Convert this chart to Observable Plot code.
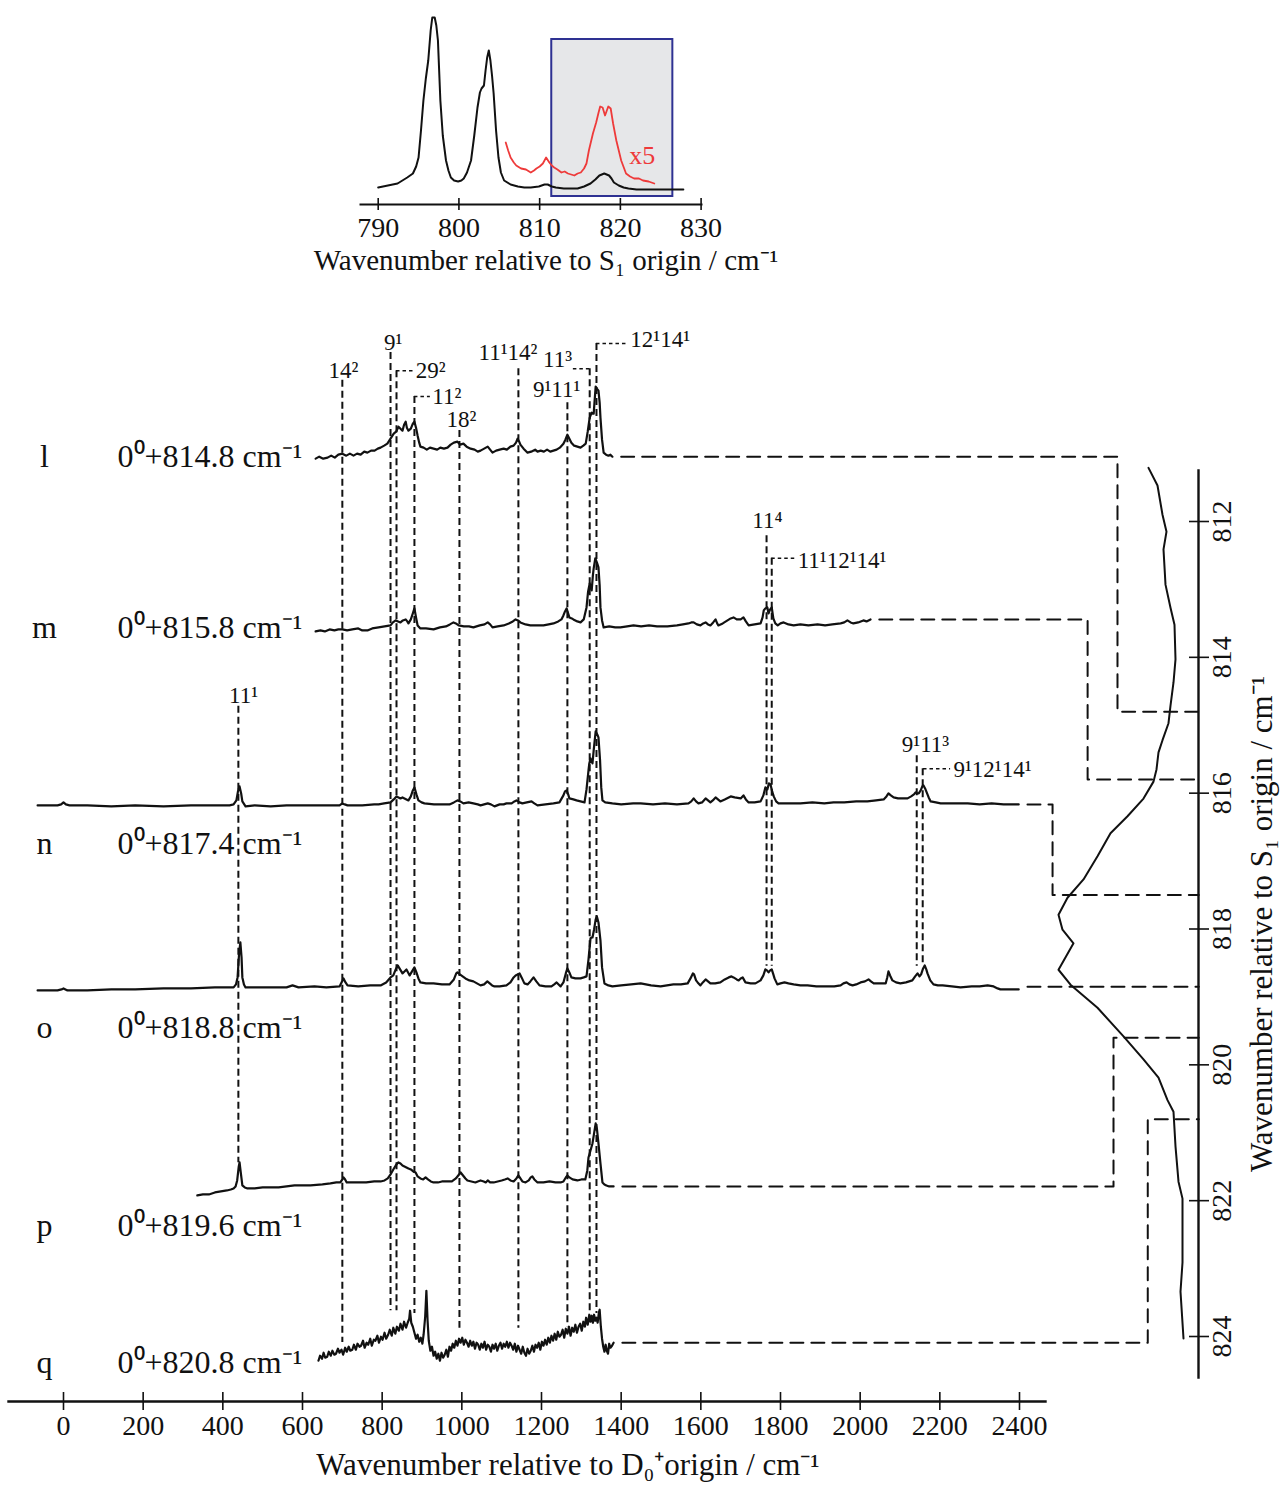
<!DOCTYPE html>
<html><head><meta charset="utf-8">
<script src="https://cdn.jsdelivr.net/npm/d3@7"></script>
<script src="https://cdn.jsdelivr.net/npm/@observablehq/plot@0.6"></script>
<style>
html,body{margin:0;padding:0;background:#fff;}
#fig{position:relative;width:1284px;height:1486px;background:#fff;overflow:hidden;}
#fig svg{position:absolute;left:0;top:0;}
</style></head><body><div id="fig"></div>
<script>
// ---------------- DATA ----------------
// Inset: REMPI spectrum vs wavenumber relative to S1 origin (cm-1), intensity a.u.
const insetTicks = [790, 800, 810, 820, 830];
const insetBlack = [[790.0,3],[791.2,5],[792.4,7],[793.0,10],[793.6,13],[794.3,17],[794.7,24],[795.0,33],[795.3,60],[795.6,90],[795.9,112],[796.2,130],[796.5,160],[796.7,173],[797.0,173],[797.2,165],[797.4,150],[797.7,90],[798.0,55],[798.4,30],[798.7,20],[799.0,13],[799.4,10],[799.9,9],[800.3,10],[800.6,12],[801.0,18],[801.5,30],[801.9,55],[802.3,83],[802.6,98],[802.8,102],[803.1,105],[803.3,120],[803.5,133],[803.7,140],[803.9,130],[804.1,115],[804.3,97],[804.6,60],[804.9,33],[805.2,18],[805.6,10],[806.4,6],[807.3,4],[808.1,3],[808.9,3],[809.9,4],[810.6,6],[811.0,6],[811.5,4],[812.0,3],[813.0,2],[814.0,2],[814.7,2],[815.5,4],[816.3,7],[816.9,11],[817.4,15],[818.0,17],[818.3,16],[818.6,15],[818.9,12],[819.2,8],[819.8,5],[820.4,3],[821.0,2],[822.0,1],[823.8,1],[825.5,1],[827.8,1]];
const insetRedX5 = [[805.8,48],[806.1,40],[806.4,33],[806.8,28],[807.1,25],[807.7,22],[808.3,21],[808.9,18],[809.3,20],[809.6,22],[810.0,24],[810.4,27],[810.8,33],[811.2,28],[811.5,25],[811.8,23],[812.2,21],[812.7,18],[813.1,19],[813.5,17],[813.9,16],[814.3,15],[814.7,17],[815.1,18],[815.5,22],[815.8,27],[816.1,40],[816.6,57],[817.0,68],[817.3,78],[817.5,84],[817.8,83],[818.1,75],[818.5,84],[818.8,82],[819.1,67],[819.5,50],[820.1,30],[820.7,17],[821.2,14],[821.7,12],[822.3,12],[822.8,10],[823.5,9],[824.2,7]];
const insetBox = [{x1: 811.5, x2: 826.5, y1: -6, y2: 151}];
const insetNote = [{text: "x5", wn: 821.1, I: 35}];
const insetTitle = "Wavenumber relative to S₁ origin / cm⁻¹";

// Main panel: ion spectra vs wavenumber relative to D0+ origin
const xTicks = [0, 200, 400, 600, 800, 1000, 1200, 1400, 1600, 1800, 2000, 2200, 2400];
const mainTitle = "Wavenumber relative to D₀⁺origin / cm⁻¹";
const traceNames = ["l", "m", "n", "o", "p", "q"];
const valueLabels = ["0⁰+814.8 cm⁻¹", "0⁰+815.8 cm⁻¹", "0⁰+817.4 cm⁻¹", "0⁰+818.8 cm⁻¹", "0⁰+819.6 cm⁻¹", "0⁰+820.8 cm⁻¹"];
// S1 wavenumber each spectrum is connected to on the right-hand axis
const connectS1 = [814.8, 815.8, 817.5, 818.85, 819.6, 820.8];

const traceL = [[633,-1],[642,1],[652,-1],[663,0],[672,2],[681,0],[690,3],[700,4],[710,2],[719,4],[728,2],[737,4],[746,3],[755,6],[763,5],[772,7],[781,7],[789,9],[796,10],[805,12],[813,14],[821,19],[829,24],[835,26],[841,31],[846,29],[851,27],[855,33],[859,36],[862,30],[866,27],[872,29],[877,34],[881,36],[885,30],[889,22],[893,15],[896,11],[904,10],[912,8],[920,10],[929,9],[938,8],[946,10],[955,9],[964,10],[972,13],[980,15],[989,16],[996,13],[1004,14],[1012,11],[1022,9],[1032,8],[1040,6],[1047,7],[1056,9],[1065,11],[1071,8],[1077,5],[1086,7],[1095,8],[1105,9],[1113,8],[1122,11],[1130,12],[1136,15],[1140,19],[1144,16],[1147,13],[1155,9],[1165,5],[1174,6],[1184,8],[1190,6],[1198,7],[1206,6],[1214,8],[1222,6],[1230,7],[1238,8],[1246,10],[1255,14],[1260,18],[1265,23],[1270,19],[1275,15],[1282,12],[1290,11],[1298,10],[1305,12],[1311,14],[1316,26],[1321,40],[1326,45],[1331,44],[1333,55],[1336,71],[1339,69],[1343,67],[1346,55],[1348,40],[1352,18],[1356,5],[1362,3],[1368,2],[1373,3],[1378,1]];
const traceM = [[633,-6],[645,-5],[656,-6],[668,-4],[680,-5],[690,-4],[700,-4],[712,-5],[725,-4],[740,-3],[750,-5],[763,-5],[775,-3],[791,-2],[806,-1],[821,0],[827,3],[834,5],[840,4],[846,3],[852,5],[859,6],[863,4],[866,2],[872,6],[877,12],[881,17],[885,8],[889,0],[896,-3],[910,-3],[929,-4],[945,-2],[960,-1],[970,1],[979,3],[985,2],[992,0],[1005,-1],[1018,-1],[1029,-2],[1045,0],[1057,1],[1065,3],[1071,1],[1077,-2],[1090,-1],[1105,0],[1118,2],[1128,4],[1135,6],[1141,5],[1147,3],[1160,1],[1172,0],[1190,0],[1205,0],[1218,1],[1230,2],[1242,4],[1250,6],[1255,10],[1259,14],[1263,17],[1266,13],[1270,8],[1276,7],[1280,6],[1290,4],[1298,3],[1306,6],[1313,18],[1317,34],[1321,42],[1323,38],[1326,35],[1329,50],[1331,57],[1335,67],[1339,63],[1343,58],[1346,40],[1348,18],[1352,5],[1356,-2],[1370,-1],[1385,-2],[1398,-2],[1415,-1],[1431,0],[1450,-1],[1470,0],[1490,-1],[1516,-1],[1540,0],[1555,1],[1569,2],[1576,3],[1582,3],[1590,1],[1599,0],[1606,2],[1612,3],[1618,1],[1624,0],[1631,3],[1637,6],[1641,2],[1644,0],[1655,2],[1667,5],[1675,7],[1682,8],[1690,6],[1700,6],[1707,8],[1713,4],[1720,0],[1735,1],[1750,2],[1755,8],[1758,15],[1762,17],[1767,18],[1770,12],[1774,16],[1778,18],[1782,7],[1787,2],[1793,0],[1800,2],[1808,3],[1820,1],[1833,0],[1850,1],[1870,0],[1893,1],[1912,0],[1930,1],[1951,2],[1960,3],[1968,5],[1976,3],[1983,2],[1995,3],[2008,5],[2016,4],[2026,6]];
const traceN = [[-65,0],[-40,0],[-15,0],[-6,1],[0,3],[6,1],[15,0],[60,0],[120,-1],[180,0],[251,-1],[320,0],[380,0],[417,0],[427,1],[434,5],[438,14],[442,19],[446,12],[449,4],[457,-1],[480,0],[520,-1],[560,0],[620,0],[660,0],[693,0],[700,2],[706,1],[713,0],[750,0],[780,1],[791,1],[805,2],[821,3],[829,6],[836,9],[841,8],[846,7],[851,8],[856,7],[861,6],[866,5],[872,9],[877,15],[881,18],[886,11],[891,5],[899,3],[906,2],[930,1],[955,1],[969,1],[980,3],[989,5],[996,4],[1004,2],[1017,3],[1029,2],[1040,1],[1047,0],[1056,1],[1065,2],[1073,1],[1082,-1],[1095,1],[1105,1],[1112,2],[1125,2],[1132,4],[1137,5],[1145,3],[1152,2],[1163,3],[1175,4],[1182,2],[1190,0],[1210,1],[1230,2],[1245,3],[1255,10],[1259,14],[1263,15],[1267,11],[1270,7],[1280,6],[1288,5],[1298,4],[1308,3],[1313,16],[1318,35],[1320,42],[1323,47],[1326,44],[1328,42],[1331,55],[1336,74],[1340,71],[1343,68],[1347,45],[1350,18],[1353,5],[1360,3],[1378,2],[1400,1],[1430,2],[1449,2],[1480,1],[1510,2],[1540,1],[1569,2],[1576,4],[1582,7],[1588,4],[1594,2],[1603,3],[1612,7],[1618,5],[1624,3],[1630,5],[1637,8],[1643,6],[1649,4],[1660,6],[1675,9],[1685,8],[1700,7],[1707,10],[1713,6],[1720,3],[1735,3],[1750,4],[1757,10],[1762,18],[1767,16],[1771,22],[1775,21],[1779,14],[1783,9],[1789,4],[1795,2],[1820,2],[1850,2],[1880,3],[1910,2],[1933,3],[1960,3],[1990,4],[2018,4],[2040,5],[2059,6],[2066,9],[2071,12],[2077,10],[2084,8],[2095,7],[2110,7],[2119,7],[2128,9],[2135,11],[2139,13],[2143,12],[2147,12],[2152,15],[2156,19],[2159,20],[2163,17],[2167,13],[2172,8],[2177,4],[2190,3],[2202,2],[2230,2],[2270,2],[2300,1],[2330,2],[2360,1],[2398,1]];
const traceO = [[-65,-3],[-40,-3],[-15,-3],[-5,-2],[0,-1],[5,-2],[10,-3],[60,-3],[120,-2],[180,-2],[251,-1],[320,-1],[380,0],[427,0],[433,3],[437,10],[441,35],[444,45],[447,30],[449,10],[453,3],[457,0],[500,0],[540,0],[560,0],[575,2],[590,0],[630,1],[660,0],[693,1],[698,5],[703,9],[708,5],[713,2],[740,1],[770,2],[796,2],[810,5],[821,10],[828,12],[834,18],[839,22],[845,18],[851,14],[856,16],[861,18],[865,15],[869,12],[875,16],[881,20],[886,15],[891,9],[896,5],[910,4],[929,4],[950,3],[969,3],[980,8],[986,14],[989,15],[995,13],[1002,11],[1009,9],[1019,7],[1029,6],[1038,4],[1047,2],[1056,3],[1064,6],[1070,4],[1076,2],[1082,1],[1095,1],[1112,2],[1122,5],[1130,10],[1135,12],[1140,13],[1145,14],[1150,10],[1157,4],[1165,3],[1172,6],[1180,10],[1187,6],[1195,2],[1210,1],[1225,1],[1232,3],[1238,5],[1243,3],[1248,1],[1255,5],[1261,14],[1265,19],[1270,15],[1275,10],[1285,9],[1298,9],[1306,10],[1313,11],[1318,28],[1323,49],[1326,50],[1328,50],[1332,58],[1336,68],[1339,71],[1343,65],[1348,47],[1352,20],[1358,4],[1368,2],[1378,1],[1400,2],[1425,3],[1449,4],[1475,2],[1499,1],[1515,2],[1531,3],[1550,3],[1567,4],[1574,9],[1580,14],[1583,13],[1588,7],[1592,5],[1599,2],[1605,5],[1612,8],[1618,6],[1624,4],[1636,4],[1649,5],[1660,8],[1670,10],[1677,11],[1682,10],[1690,8],[1695,7],[1700,9],[1705,10],[1712,5],[1725,4],[1737,4],[1750,7],[1757,12],[1762,18],[1766,17],[1770,15],[1774,17],[1778,18],[1782,13],[1785,9],[1792,3],[1800,4],[1810,5],[1820,4],[1833,3],[1850,2],[1868,2],[1890,1],[1918,1],[1935,1],[1951,2],[1958,4],[1966,5],[1973,3],[1981,2],[1990,3],[2001,5],[2012,6],[2021,8],[2027,6],[2034,4],[2050,4],[2064,4],[2068,10],[2071,16],[2075,12],[2081,7],[2090,5],[2101,4],[2115,5],[2131,7],[2138,11],[2144,14],[2149,11],[2153,13],[2158,19],[2162,22],[2166,18],[2169,14],[2176,7],[2184,3],[2195,2],[2207,2],[2230,1],[2252,0],[2280,1],[2300,1],[2320,2],[2335,1],[2345,-1],[2352,-2],[2370,-2],[2398,-2]];
const traceP = [[336,-7],[350,-6],[365,-6],[380,-4],[395,-3],[410,-2],[420,-1],[427,0],[432,2],[436,8],[440,22],[442,26],[445,16],[449,3],[455,1],[462,0],[480,0],[500,1],[520,1],[540,1],[560,2],[580,3],[595,3],[620,3],[650,4],[670,5],[685,6],[695,6],[700,9],[703,11],[707,9],[711,6],[720,6],[740,6],[760,6],[780,7],[796,7],[806,8],[814,10],[821,14],[828,19],[834,23],[838,25],[841,26],[846,25],[851,23],[856,22],[861,21],[866,20],[872,19],[878,17],[884,16],[889,12],[896,10],[903,9],[909,11],[915,9],[922,7],[929,6],[940,6],[950,7],[964,7],[975,7],[985,10],[991,13],[997,16],[1003,13],[1009,10],[1014,8],[1024,7],[1034,6],[1040,7],[1047,8],[1055,7],[1060,6],[1065,8],[1071,6],[1080,6],[1090,7],[1100,8],[1108,9],[1115,10],[1122,8],[1130,7],[1137,10],[1142,13],[1147,10],[1152,7],[1160,6],[1168,8],[1173,11],[1177,12],[1182,9],[1190,6],[1205,6],[1220,7],[1235,6],[1248,6],[1255,7],[1261,11],[1265,13],[1270,11],[1278,9],[1290,8],[1300,9],[1310,9],[1315,18],[1318,31],[1323,38],[1328,45],[1332,55],[1336,65],[1339,60],[1343,45],[1348,25],[1353,6],[1358,4],[1363,3],[1370,2],[1381,2]];
const traceQ = [[640,-12],[644,-7],[649,-10],[653,-4],[657,-9],[662,-8],[666,-3],[671,-7],[675,-2],[680,-6],[684,-5],[689,0],[693,-4],[698,-1],[702,-6],[707,1],[711,-3],[716,2],[720,-2],[725,-1],[729,4],[734,-1],[738,5],[743,2],[747,3],[752,8],[756,1],[761,6],[765,4],[770,10],[774,3],[779,9],[783,8],[788,13],[792,6],[797,12],[801,9],[806,16],[810,10],[815,14],[819,19],[824,13],[828,21],[833,15],[837,22],[842,18],[846,25],[851,19],[855,27],[860,21],[864,26],[868,30],[870,38],[873,26],[877,22],[881,16],[885,10],[889,14],[893,7],[897,11],[901,5],[904,14],[908,32],[911,58],[914,28],[917,8],[921,-2],[925,2],[929,-7],[933,-3],[937,-10],[941,-5],[945,-12],[949,-4],[953,-9],[957,-6],[961,-1],[965,-8],[969,2],[973,-2],[977,5],[981,1],[985,8],[989,3],[993,10],[997,6],[1001,11],[1005,4],[1009,9],[1013,6],[1017,2],[1021,8],[1025,3],[1029,7],[1033,0],[1037,6],[1041,4],[1045,-1],[1049,5],[1053,1],[1057,7],[1061,-1],[1065,4],[1069,2],[1073,-3],[1077,4],[1081,0],[1085,5],[1089,-2],[1093,3],[1097,6],[1101,0],[1105,5],[1109,2],[1113,7],[1117,1],[1121,6],[1125,3],[1129,-1],[1133,5],[1137,-3],[1141,3],[1145,-1],[1149,-5],[1153,2],[1157,-4],[1161,-7],[1165,0],[1169,-5],[1173,-2],[1177,3],[1181,-3],[1185,4],[1189,1],[1193,6],[1197,-1],[1201,7],[1205,3],[1209,9],[1213,4],[1217,11],[1221,6],[1225,13],[1229,8],[1233,15],[1237,9],[1241,17],[1245,12],[1249,14],[1253,19],[1257,11],[1261,20],[1265,15],[1269,22],[1273,13],[1277,21],[1281,17],[1285,24],[1289,16],[1293,22],[1297,25],[1301,18],[1305,27],[1309,22],[1312,31],[1316,24],[1320,34],[1323,27],[1326,33],[1329,26],[1332,34],[1335,28],[1338,31],[1341,26],[1344,36],[1346,39],[1349,22],[1352,10],[1355,2],[1358,-3],[1361,4],[1364,-2],[1367,-5],[1370,5],[1373,1],[1377,3],[1381,6]];

// Vibrational assignments: wavenumber, dashed line extent (in S1-axis units), label
const assignLines = [
  {wn: 700, top: 809.92, bottom: 824.09}, {wn: 821, top: 809.51, bottom: 823.62},
  {wn: 836, top: 809.78, bottom: 823.62}, {wn: 881, top: 810.16, bottom: 823.66},
  {wn: 994, top: 810.66, bottom: 823.88}, {wn: 1142, top: 809.75, bottom: 823.88},
  {wn: 1265, top: 810.25, bottom: 823.86}, {wn: 1321, top: 809.75, bottom: 823.66},
  {wn: 1338, top: 809.38, bottom: 823.66}, {wn: 439, top: 814.72, bottom: 821.44},
  {wn: 1765, top: 812.21, bottom: 818.55}, {wn: 1778, top: 812.54, bottom: 818.55},
  {wn: 2142, top: 815.45, bottom: 818.55}, {wn: 2157, top: 815.64, bottom: 818.52}
];
const leaders = [
  {y: 809.78, x1: 836, x2: 879}, {y: 810.16, x1: 881, x2: 921},
  {y: 809.75, x1: 1280, x2: 1321}, {y: 809.38, x1: 1338, x2: 1416},
  {y: 812.54, x1: 1778, x2: 1838}, {y: 815.64, x1: 2159, x2: 2227}
];
const assignLabels = [
  {text: "14²", wn: 703, s1: 809.78, anchor: "middle"},
  {text: "9¹", wn: 828, s1: 809.36, anchor: "middle"},
  {text: "29²", wn: 884, s1: 809.78, anchor: "start"},
  {text: "11²", wn: 926, s1: 810.16, anchor: "start"},
  {text: "18²", wn: 999, s1: 810.50, anchor: "middle"},
  {text: "11¹14²", wn: 1116, s1: 809.51, anchor: "middle"},
  {text: "9¹11¹", wn: 1238, s1: 810.06, anchor: "middle"},
  {text: "11³", wn: 1277, s1: 809.61, anchor: "end"},
  {text: "12¹14¹", wn: 1423, s1: 809.32, anchor: "start"},
  {text: "11¹", wn: 452, s1: 814.56, anchor: "middle"},
  {text: "11⁴", wn: 1767, s1: 811.99, anchor: "middle"},
  {text: "11¹12¹14¹", wn: 1843, s1: 812.57, anchor: "start"},
  {text: "9¹11³", wn: 2164, s1: 815.28, anchor: "middle"},
  {text: "9¹12¹14¹", wn: 2234, s1: 815.65, anchor: "start"}
];

// Right panel: S1 spectrum drawn vertically (S1 wavenumber, intensity a.u.)
const s1Ticks = [812, 814, 816, 818, 820, 822, 824];
const rightTitle = "Wavenumber relative to S₁ origin / cm⁻¹";
const rightTrace = [[811.21,42],[811.47,33],[811.90,28],[812.15,24],[812.41,27],[812.93,25],[813.27,20],[813.52,16],[814.03,15],[814.37,17],[814.71,20],[814.97,22],[815.22,28],[815.40,32],[815.65,34],[815.83,37],[816.08,47],[816.34,63],[816.59,80],[816.93,93],[817.27,107],[817.54,123],[817.79,132],[818.01,128],[818.21,117],[818.60,132],[818.82,120],[819.16,93],[819.58,67],[819.92,47],[820.19,32],[820.52,23],[820.69,17],[821.20,15],[821.72,12],[821.97,8],[822.91,8],[823.34,10],[824.03,7]];

// ---------------- LAYOUT ----------------
const FONT = '"Liberation Serif","Times New Roman",Times,serif';
const INK = "#111";
const traceBaseS1 = [811.06, 813.53, 816.18, 818.86, 821.82, 824.18]; // stacking offsets
const labelRowS1 = [811.04, 813.56, 816.74, 819.46, 822.37, 824.38];
const intensityPerS1 = 67.92;   // stacking gain
const elbowWn = [2646, 2571, 2483, null, 2636, 2722];
const rightAxisWn = 2850;        // right axis position, in bottom-axis units

const traces = [traceL, traceM, traceN, traceO, traceP, traceQ];
const traceRows = traces.flatMap((pts, i) =>
  pts.map(([wn, I]) => ({trace: traceNames[i], wn, s1: traceBaseS1[i] - I / intensityPerS1})));
const connRows = traces.flatMap((pts, i) => {
  const [endWn, endI] = pts[pts.length - 1];
  const yEnd = traceBaseS1[i] - endI / intensityPerS1;
  const pts2 = elbowWn[i] == null
    ? [[endWn + 22, connectS1[i]], [rightAxisWn, connectS1[i]]]
    : [[endWn + 22, yEnd], [elbowWn[i], yEnd], [elbowWn[i], connectS1[i]], [rightAxisWn, connectS1[i]]];
  return pts2.map(([wn, s1]) => ({trace: traceNames[i], wn, s1}));
});
const letterRows = traceNames.map((t, i) => ({t, s1: labelRowS1[i]}));
const valueRows = valueLabels.map((t, i) => ({t, s1: labelRowS1[i]}));

const fig = document.getElementById("fig");
const baseStyle = {fontFamily: FONT, background: "transparent", color: INK, overflow: "visible"};

// ---------- main stacked panel ----------
const main = Plot.plot({
  width: 1284, height: 1486,
  marginLeft: 8, marginRight: 239, marginTop: 300, marginBottom: 85,
  style: baseStyle,
  x: {domain: [0, 2400], range: [63, 1019], label: null},
  y: {domain: [812, 824], range: [521, 1336], label: null, axis: null},
  marks: [
    Plot.ruleX(assignLines, {x: "wn", y1: "top", y2: "bottom", stroke: INK, strokeWidth: 2, strokeDasharray: "7,4"}),
    Plot.ruleY(leaders, {y: "y", x1: "x1", x2: "x2", stroke: INK, strokeWidth: 1.6, strokeDasharray: "3.5,3"}),
    Plot.line(connRows, {x: "wn", y: "s1", z: "trace", stroke: INK, strokeWidth: 2, strokeDasharray: "13,8"}),
    Plot.line(traceRows, {x: "wn", y: "s1", z: "trace", stroke: INK, strokeWidth: 2.2, strokeLinejoin: "round"}),
    Plot.text(assignLabels.filter(d => d.anchor === "middle"), {x: "wn", y: "s1", text: "text", fontSize: 23, textAnchor: "middle"}),
    Plot.text(assignLabels.filter(d => d.anchor === "start"), {x: "wn", y: "s1", text: "text", fontSize: 23, textAnchor: "start"}),
    Plot.text(assignLabels.filter(d => d.anchor === "end"), {x: "wn", y: "s1", text: "text", fontSize: 23, textAnchor: "end"}),
    Plot.text(letterRows, {y: "s1", text: "t", frameAnchor: "left", dx: 36, textAnchor: "middle", lineAnchor: "middle", fontSize: 32}),
    Plot.text(valueRows, {y: "s1", text: "t", frameAnchor: "left", dx: 109, textAnchor: "start", lineAnchor: "middle", fontSize: 32}),
    Plot.frame({anchor: "bottom", stroke: INK, strokeWidth: 2.4}),
    Plot.axisX({anchor: "bottom", ticks: xTicks, tickFormat: d => String(d), tickSize: 18, dy: -9, tickPadding: 5, fontSize: 28, strokeWidth: 1.6, label: null}),
    Plot.text([mainTitle], {frameAnchor: "bottom", textAnchor: "middle", lineAnchor: "middle", dx: 41, dy: 64, fontSize: 31})
  ]
});
fig.appendChild(main);

// ---------- inset ----------
const inset = Plot.plot({
  width: 1284, height: 300,
  marginLeft: 360, marginRight: 583, marginTop: 10, marginBottom: 96,
  style: baseStyle,
  x: {domain: [790, 830], range: [377.7, 700.6], label: null},
  y: {domain: [0, 173], range: [190, 17], label: null, axis: null},
  marks: [
    Plot.rect(insetBox, {x1: "x1", x2: "x2", y1: "y1", y2: "y2", fill: "#e6e7e9", stroke: "#2e3192", strokeWidth: 2}),
    Plot.line(insetBlack, {x: d => d[0], y: d => d[1], stroke: INK, strokeWidth: 2}),
    Plot.line(insetRedX5, {x: d => d[0], y: d => d[1], stroke: "#ee3a3a", strokeWidth: 1.8}),
    Plot.text(insetNote, {x: "wn", y: "I", text: "text", fill: "#ee3a3a", fontSize: 26, textAnchor: "start"}),
    Plot.frame({anchor: "bottom", stroke: INK, strokeWidth: 2}),
    Plot.axisX({anchor: "bottom", ticks: insetTicks, tickFormat: d => String(d), tickSize: 12, dy: -6, tickPadding: 7, fontSize: 28, strokeWidth: 1.6, label: null}),
    Plot.text([insetTitle], {frameAnchor: "bottom", textAnchor: "middle", lineAnchor: "middle", dx: 15, dy: 56, fontSize: 29})
  ]
});
fig.appendChild(inset);

// ---------- right vertical S1 panel ----------
const right = Plot.plot({
  width: 1284, height: 1486,
  marginLeft: 1000, marginRight: 86, marginTop: 470, marginBottom: 109,
  style: baseStyle,
  x: {domain: [0, 133], range: [1190, 1057], label: null, axis: null},
  y: {domain: [812, 824], range: [521, 1336], label: null},
  marks: [
    Plot.line(rightTrace, {x: d => d[1], y: d => d[0], stroke: INK, strokeWidth: 2}),
    Plot.frame({anchor: "right", stroke: INK, strokeWidth: 2.4}),
    Plot.axisY({anchor: "right", ticks: s1Ticks, tickSize: 20, dx: -10, tickFormat: () => "", strokeWidth: 1.6, label: null}),
    Plot.text(s1Ticks, {y: d => d, text: d => String(d), frameAnchor: "right", textAnchor: "middle", lineAnchor: "middle", dx: 24, rotate: -90, fontSize: 28}),
    Plot.text([rightTitle], {frameAnchor: "right", textAnchor: "middle", lineAnchor: "middle", dx: 64, rotate: -90, fontSize: 31})
  ]
});
fig.appendChild(right);
</script></body></html>
